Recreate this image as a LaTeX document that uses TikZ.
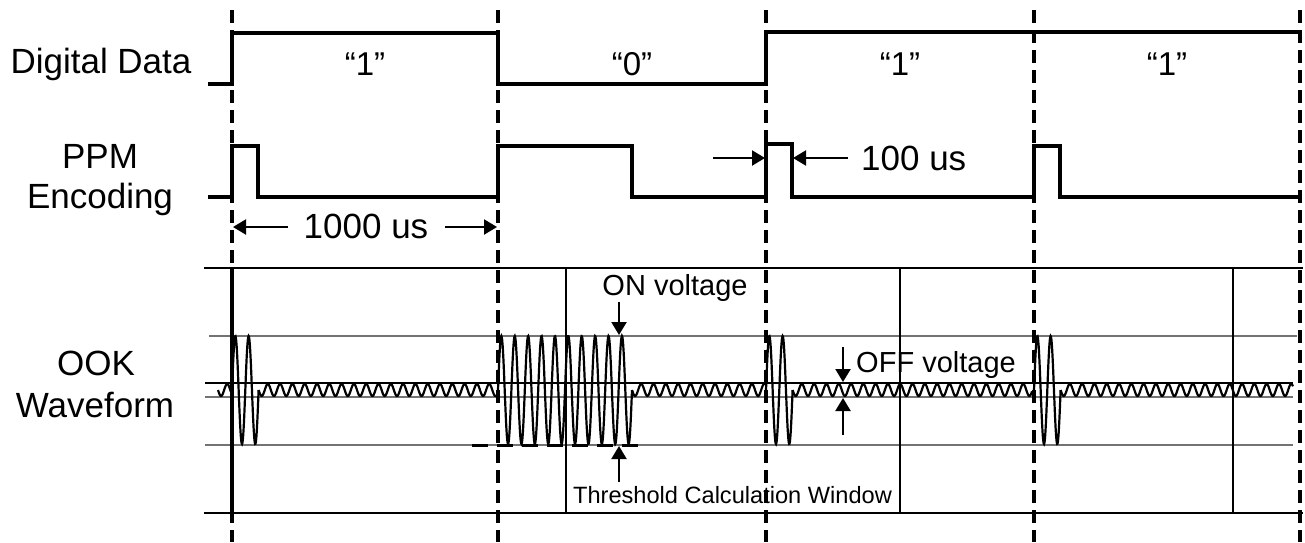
\documentclass[tikz,border=0pt]{standalone}
\usepackage{fontspec}
\setmainfont{Liberation Sans}
\usetikzlibrary{arrows.meta}
\begin{document}
\begin{tikzpicture}[x=1pt,y=-1pt,
  sig/.style={line width=3.2pt, line join=miter},
  gridline/.style={line width=3.2pt, dash pattern=on 13pt off 7pt},
  frameline/.style={line width=2.6pt},
  level/.style={line width=1.3pt, black!55},
  offlevel/.style={line width=1.2pt, black},
  winline/.style={line width=2.2pt},
  burst/.style={line width=2.2pt},
  ripple/.style={line width=2.2pt},
  thresh/.style={line width=3pt, dash pattern=on 16pt off 9pt},
  dimarrow/.style={line width=2.2pt, -{Triangle[length=13pt,width=15pt]}},
  big/.style={font=\fontsize{35}{40}\selectfont, inner sep=0pt, anchor=base},
  bit/.style={font=\fontsize{33}{38}\selectfont, inner sep=0pt, anchor=base},
  mid/.style={font=\fontsize{29}{34}\selectfont, inner sep=0pt, anchor=base},
  small/.style={font=\fontsize{23.6}{28}\selectfont, inner sep=0pt, anchor=base}]
\useasboundingbox (0,0) rectangle (1305,542);

% OOK frame and levels
\draw[frameline] (204,268) -- (1303,268);
\draw[frameline] (204,513) -- (1303,513);
\draw[level] (209,336) -- (1297,336);
\draw[offlevel] (205,383) -- (1293,383);
\draw[level] (205,397) -- (1293,397);
\draw[level] (205,445) -- (1293,445);
\draw[line width=3.2pt] (232,268) -- (232,513);
\foreach \wx in {566,900,1233} \draw[winline] (\wx,268) -- (\wx,513);

% dashed bit boundaries
\foreach \gx in {232,498,766,1034,1300} \draw[gridline] (\gx,10) -- (\gx,542);

% digital data
\draw[sig] (208,84) -- (232,84) -- (232,33) -- (498,33) -- (498,84) -- (766,84) -- (766,32) -- (1302,32);

% PPM
\draw[sig] (208,197) -- (232,197) -- (232,146) -- (258,146) -- (258,197) -- (498,197)
  -- (498,146) -- (632,146) -- (632,197) -- (766,197) -- (766,144) -- (792,144) -- (792,197)
  -- (1034,197) -- (1034,146) -- (1060,146) -- (1060,197) -- (1300,197);

% OOK waveform: ripples
\draw[ripple] plot[domain=218:231, samples=30] (\x,{390+6*sin(360*((\x-218)/12.3))});
\draw[ripple] plot[domain=258.6:496, samples=420] (\x,{390+6*sin(360*((\x-258.6)/12.3))});
\draw[ripple] plot[domain=632:765, samples=240] (\x,{390+6*sin(360*((\x-632)/12.3))});
\draw[ripple] plot[domain=792.6:1032, samples=420] (\x,{390+6*sin(360*((\x-792.6)/12.3))});
\draw[ripple] plot[domain=1060.6:1293, samples=420] (\x,{390+6*sin(360*((\x-1060.6)/12.3))});
% OOK waveform: bursts
\foreach \bx in {232,766,1034}
  \draw[burst] plot[domain=\bx:\bx+26.6, samples=70] (\x,{390-54*sin(360*((\x-\bx)/13.3))});
\draw[burst] plot[domain=498:632, samples=320] (\x,{390-54*sin(360*((\x-498)/13.4))});
\draw[thresh] (472,445) -- (642,445);

% labels
\node[big] (lDD) at (101,73) {Digital Data};
\node[big] (lPPM) at (100,168) {PPM};
\node[big] (lEnc) at (100,208) {Encoding};
\node[big] (lOOK) at (96,375) {OOK};
\node[big] (lWav) at (95,417) {Waveform};
\node[bit] (b1) at (365,75) {“1”};
\node[bit] (b2) at (632,75) {“0”};
\node[bit] (b3) at (900,75) {“1”};
\node[bit] (b4) at (1167,75) {“1”};

% 1000 us dimension
\node[big] (t1000) at (366,238) {1000 us};
\coordinate (a1s) at (288,227); \coordinate (a1e) at (233,227);
\coordinate (a2s) at (445,227); \coordinate (a2e) at (497,227);
\draw[dimarrow] (a1s) -- (a1e);
\draw[dimarrow] (a2s) -- (a2e);

% 100 us dimension
\node[big, anchor=base west] (t100) at (861,170) {100 us};
\coordinate (b1s) at (713,158); \coordinate (b1e) at (765,158);
\coordinate (b2s) at (848,158); \coordinate (b2e) at (793,158);
\draw[dimarrow] (b1s) -- (b1e);
\draw[dimarrow] (b2s) -- (b2e);

% ON / OFF voltage
\node[mid] (ton) at (675,295) {ON voltage};
\coordinate (on1s) at (619,302); \coordinate (on1e) at (619,335);
\coordinate (on2s) at (619,482); \coordinate (on2e) at (619,446);
\draw[dimarrow] (on1s) -- (on1e);
\draw[dimarrow] (on2s) -- (on2e);
\node[mid] (toff) at (936,372) {OFF voltage};
\coordinate (of1s) at (843,347); \coordinate (of1e) at (843,382);
\coordinate (of2s) at (843,435); \coordinate (of2e) at (843,398);
\draw[dimarrow] (of1s) -- (of1e);
\draw[dimarrow] (of2s) -- (of2e);
\node[small] (tthr) at (732.5,503) {Threshold Calculation Window};
\end{tikzpicture}
\end{document}
